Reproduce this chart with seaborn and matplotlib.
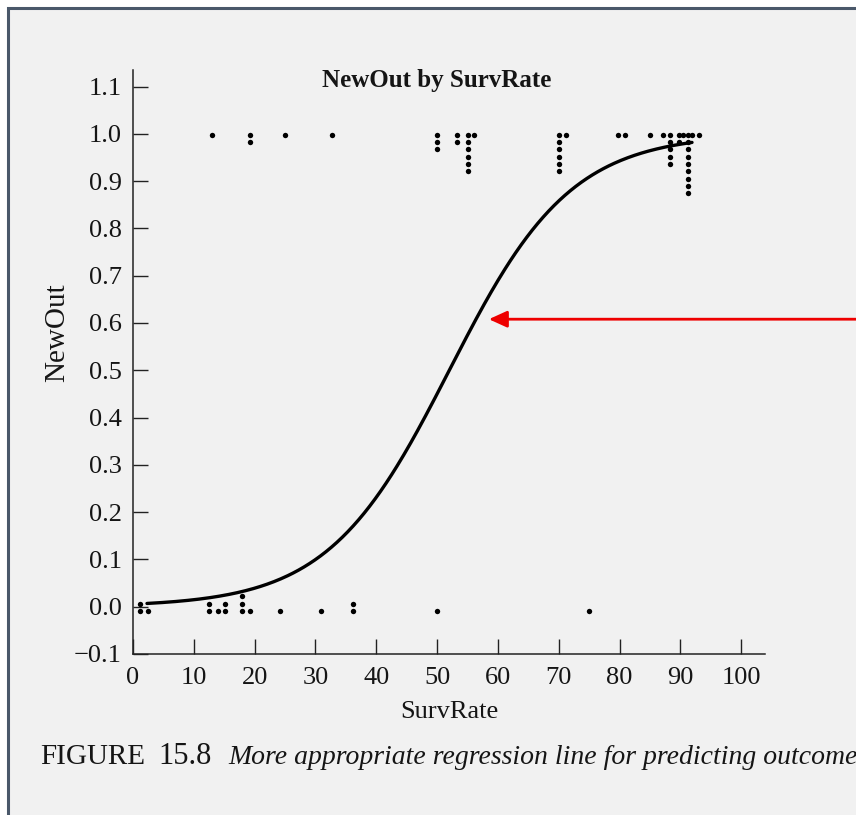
import numpy as np
import pandas as pd
import matplotlib
matplotlib.use("Agg")
import matplotlib.pyplot as plt
from matplotlib.patches import Rectangle
import seaborn as sns

# Observed cases: survival rate of each distinct value and how many cases share it
surv_pos = [13.0, 19.2, 25.0, 32.7, 50.0, 53.3, 55.0, 56.1, 70.0, 71.2,
            79.7, 80.9, 85.0, 87.1, 88.3, 89.7, 90.4, 91.2, 91.9, 93.1]
count_pos = [1, 2, 1, 1, 3, 2, 6, 1, 6, 1, 1, 1, 1, 1, 5, 2, 1, 9, 1, 1]
surv_neg = [1.2, 2.4, 12.5, 13.9, 15.1, 18.0, 19.2, 24.1, 30.9, 36.2, 50.0, 75.0]
count_neg = [2, 1, 2, 1, 2, 3, 1, 1, 1, 2, 1, 1]

# Fitted logistic regression: logit(p) = intercept + slope * SurvRate
logit_intercept = -5.2
logit_slope = 0.1
fit_min, fit_max = 2.3, 91.9

x_ticks = [0, 10, 20, 30, 40, 50, 60, 70, 80, 90, 100]
y_ticks = [-0.1, 0.0, 0.1, 0.2, 0.3, 0.4, 0.5, 0.6, 0.7, 0.8, 0.9, 1.0, 1.1]

title = "NewOut by SurvRate"
x_label = "SurvRate"
y_label = "NewOut"
fig_label = "FIGURE"
fig_number = "15.8"
caption = "More appropriate regression line for predicting outcome"

# Tied cases are stacked as a short column of dots
STACK = 0.0155
rows = []
for xs, ns, outcome in ((surv_pos, count_pos, 1), (surv_neg, count_neg, 0)):
    for x, n in zip(xs, ns):
        for k in range(n):
            y = (0.998 - k * STACK) if outcome == 1 else (-0.009 + k * STACK)
            rows.append({"SurvRate": x, "NewOut": y})
points = pd.DataFrame(rows)

grid = np.linspace(fit_min, fit_max, 400)
curve = pd.DataFrame({
    "SurvRate": grid,
    "NewOut": 1.0 / (1.0 + np.exp(-(logit_intercept + logit_slope * grid))),
})

sns.set_style("ticks")
plt.rcParams["font.family"] = ["Liberation Serif", "DejaVu Serif"]
plt.rcParams["text.color"] = "#151515"
plt.rcParams["axes.labelcolor"] = "#151515"

W, H = 856, 815
fig = plt.figure(figsize=(W / 100, H / 100), dpi=100)
fig.patch.set_facecolor("white")

# paper background with a dark frame along the top and left
fig.patches.append(Rectangle((8 / W, -0.05), 1.2, 1 - 8 / H + 0.05,
                             transform=fig.transFigure, facecolor="#f1f1f1",
                             edgecolor="#4a586a", linewidth=2.2, zorder=-10))

ax = fig.add_axes([133 / W, 1 - 654 / H, (765 - 133) / W, (654 - 70) / H])
ax.set_zorder(2)
ax.set_facecolor("none")

sns.lineplot(data=curve, x="SurvRate", y="NewOut", ax=ax, color="black",
             linewidth=2.4, zorder=3)
sns.scatterplot(data=points, x="SurvRate", y="NewOut", ax=ax, color="black",
                s=15, linewidth=0, zorder=4)

ax.set_xlim(0, 103.9)
ax.set_ylim(-0.1, 1.135)
ax.set_xticks(x_ticks)
ax.set_xticklabels([str(t) for t in x_ticks])
ax.set_yticks(y_ticks)
ax.set_yticklabels([f"{t:.1f}".replace("-", "\u2212") for t in y_ticks])
ax.tick_params(direction="in", length=11, width=1.0, color="#222222",
               labelsize=19, labelcolor="#151515")
ax.tick_params(axis="y", pad=8)
ax.tick_params(axis="x", pad=9)
for side in ("top", "right"):
    ax.spines[side].set_visible(False)
for side in ("left", "bottom"):
    ax.spines[side].set_color("#222222")
    ax.spines[side].set_linewidth(1.1)

ax.set_xlabel(x_label, fontsize=19, labelpad=9)
ax.set_ylabel(y_label, fontsize=21)
ax.yaxis.set_label_coords(-0.10, 0.55)

fig.text(437 / W, 1 - 80 / H, title, ha="center", va="center",
         fontsize=18, fontweight="bold")

# red pointer to the fitted curve
ax.annotate("", xy=(58.5, 0.608), xycoords="data",
            xytext=(1.0, 0.608), textcoords=("figure fraction", "data"),
            arrowprops=dict(arrowstyle="-|>,head_length=0.55,head_width=0.25",
                            mutation_scale=20, color="#ee0000", lw=2.0,
                            shrinkA=0, shrinkB=0),
            annotation_clip=False)

fig.text(40 / W, 1 - 757 / H, fig_label, ha="left", va="center", fontsize=21)
fig.text(158 / W, 1 - 757 / H, fig_number, ha="left", va="center", fontsize=22)
fig.text(228 / W, 1 - 757 / H, caption, ha="left", va="center",
         fontsize=20, fontstyle="italic")

fig.savefig("out.png", dpi=100, facecolor=fig.get_facecolor())
